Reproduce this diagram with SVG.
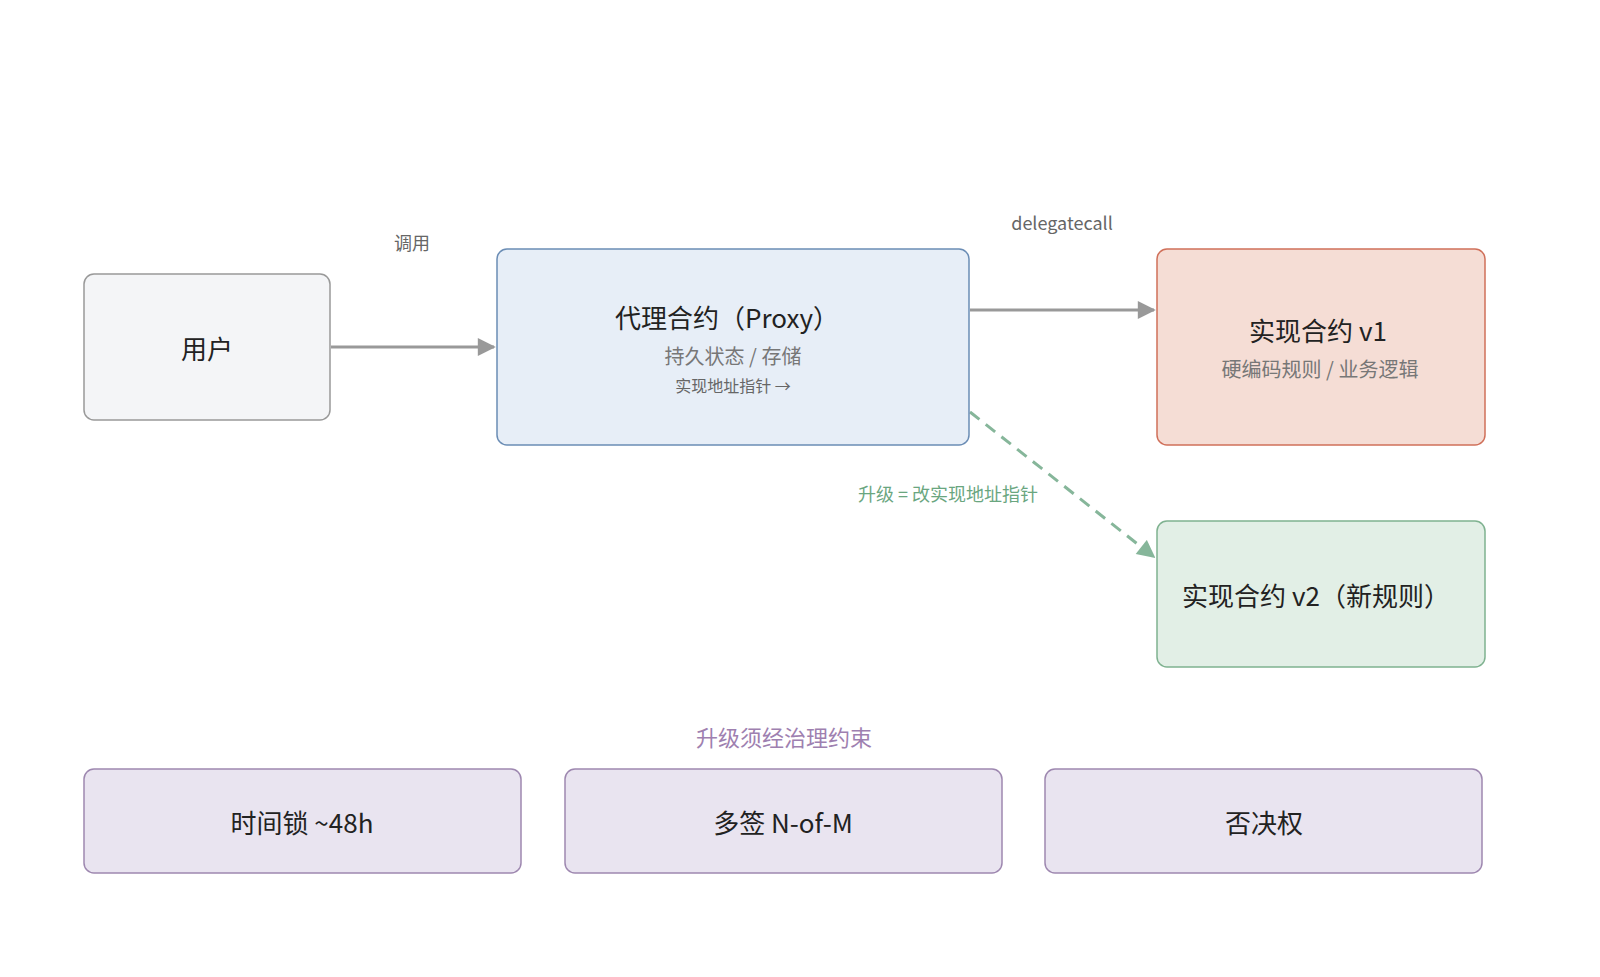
<svg xmlns="http://www.w3.org/2000/svg" width="1600" height="977" viewBox="0 0 1600 977">
<style>
text{font-family:"Noto Sans CJK SC","Liberation Sans",sans-serif;text-anchor:middle;dominant-baseline:central}
.t{font-size:26px;fill:#222}
.s{font-size:20px;fill:#777}
.xs{font-size:16px;fill:#666}
.lbl{font-size:18px;fill:#666}
.g{fill:#e9e4f0;stroke:#9e88b0;stroke-width:1.5}
</style>
<defs>
<marker id="ag" viewBox="0 0 10 10" refX="9" refY="5" markerWidth="20" markerHeight="18" markerUnits="userSpaceOnUse" orient="auto"><path d="M0,0L10,5L0,10z" fill="#999"/></marker>
<marker id="agg" viewBox="0 0 10 10" refX="9" refY="5" markerWidth="20" markerHeight="18" markerUnits="userSpaceOnUse" orient="auto"><path d="M0,0L10,5L0,10z" fill="#86b69a"/></marker>
</defs>
<rect width="1600" height="977" fill="#fff"/>
<g id="connectors">
<line x1="331" y1="347" x2="494" y2="347" stroke="#999" stroke-width="3" marker-end="url(#ag)"/>
<text class="lbl" x="412" y="242">调用</text>
<line x1="970" y1="310" x2="1154" y2="310" stroke="#999" stroke-width="3" marker-end="url(#ag)"/>
<text class="lbl" x="1062" y="222" font-family="Liberation Sans">delegatecall</text>
<line x1="970" y1="412" x2="1154" y2="557" stroke="#86b69a" stroke-width="3" stroke-dasharray="12 8" marker-end="url(#agg)"/>
<text class="lbl" x="948" y="493" style="fill:#6aa67f">升级 = 改实现地址指针</text>
</g>
<g id="user"><rect x="84" y="274" width="246" height="146" rx="10" fill="#f4f5f7" stroke="#999" stroke-width="1.5"/><text class="t" x="207" y="347">用户</text></g>
<g id="proxy"><rect x="497" y="249" width="472" height="196" rx="10" fill="#e7eef7" stroke="#6b8db5" stroke-width="1.5"/>
<text class="t" x="727" y="316">代理合约（Proxy）</text><text class="s" x="733" y="355">持久状态 / 存储</text><text class="xs" x="733" y="385">实现地址指针 →</text></g>
<g id="v1"><rect x="1157" y="249" width="328" height="196" rx="10" fill="#f5ddd5" stroke="#d0705a" stroke-width="1.5"/>
<text class="t" x="1318" y="329">实现合约 v1</text><text class="s" x="1320" y="368">硬编码规则 / 业务逻辑</text></g>
<g id="v2"><rect x="1157" y="521" width="328" height="146" rx="10" fill="#e2efe6" stroke="#7fb290" stroke-width="1.5"/>
<text class="t" x="1316" y="594">实现合约 v2（新规则）</text></g>
<text x="784" y="736" style="font-size:22px;fill:#9e80b0">升级须经治理约束</text>
<g id="timelock"><rect class="g" x="84" y="769" width="437" height="104" rx="10"/><text class="t" x="302" y="821">时间锁 ~48h</text></g>
<g id="multisig"><rect class="g" x="565" y="769" width="437" height="104" rx="10"/><text class="t" x="783" y="821">多签 N-of-M</text></g>
<g id="veto"><rect class="g" x="1045" y="769" width="437" height="104" rx="10"/><text class="t" x="1264" y="821">否决权</text></g>
</svg>
